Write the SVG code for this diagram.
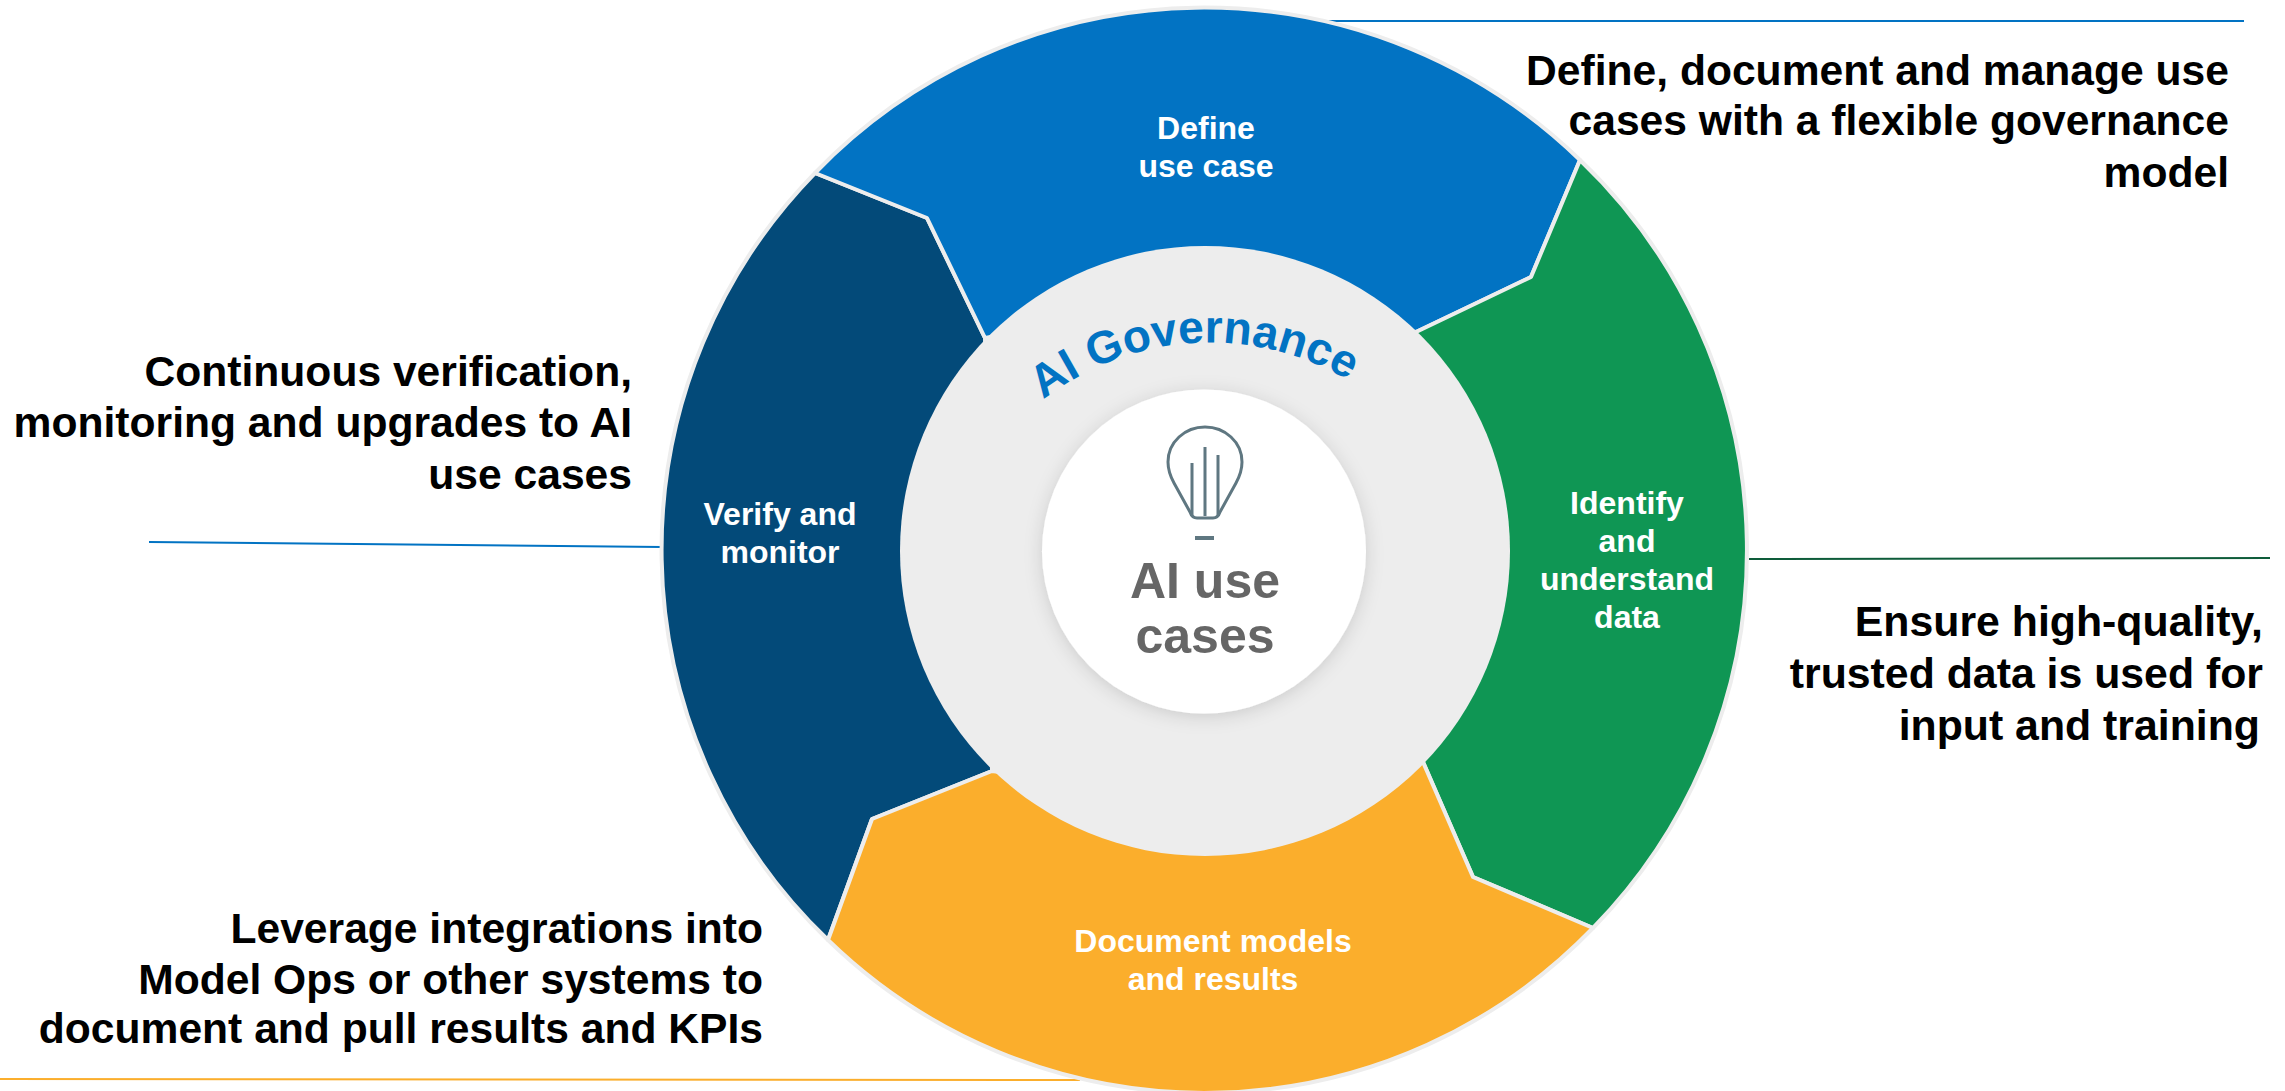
<svg xmlns="http://www.w3.org/2000/svg" width="2285" height="1091" viewBox="0 0 2285 1091">
<defs>
<filter id="sh" x="-20%" y="-20%" width="140%" height="140%"><feDropShadow dx="0" dy="3" stdDeviation="9" flood-color="#000" flood-opacity="0.14"/></filter>
<path id="arc" d="M1007 434 A271 271 0 0 1 1389 410"/>
</defs>
<style>
text{font-family:"Liberation Sans",Arial,sans-serif;font-weight:700}
.d{font-size:42.6px;fill:#000;text-anchor:end}
.e{font-size:42.8px}
.w{font-size:32px;fill:#fff;text-anchor:middle}
.seg{stroke:#ededed;stroke-width:4;stroke-linejoin:round}
.c{fill:none;stroke-width:2}
</style>
<rect width="2285" height="1091" fill="#fff"/>
<g id="connectors">
<path class="c" stroke="#0273c3" d="M1323 21H2244"/>
<path class="c" stroke="#0e5c3a" d="M1749 559L2270 558"/>
<path class="c" stroke="#fbae2c" d="M0 1079L1080 1080"/>
<path class="c" stroke="#0273c3" d="M149 542L662 547"/>
</g>
<circle cx="1204" cy="548" r="541.5" fill="#ededed"/>
<g id="node-verify"><path class="seg" fill="#034a79" d="M815 173 L927 218 L985 338 L992 771 L872 819 L828 940 A540 540 0 0 1 815 173Z"/><text class="w"><tspan x="780" y="525">Verify and</tspan><tspan x="780" y="563">monitor</tspan></text></g>
<g id="node-define"><path class="seg" fill="#0273c3" d="M815 173 A540 540 0 0 1 1580 160 L1531 277 L1416 332 L1204 300 L985 338 L927 218Z"/><text class="w"><tspan x="1206" y="139">Define</tspan><tspan x="1206" y="177">use case</tspan></text></g>
<g id="node-identify"><path class="seg" fill="#0f9654" d="M1580 160 A540 540 0 0 1 1593 928 L1473 877 L1423 762 L1416 332 L1531 277Z"/><text class="w"><tspan x="1627" y="514">Identify</tspan><tspan x="1627" y="552">and</tspan><tspan x="1627" y="590">understand</tspan><tspan x="1627" y="628">data</tspan></text></g>
<g id="node-document"><path class="seg" fill="#fbae2c" d="M1593 928 A540 540 0 0 1 828 940 L872 819 L992 771 L1204 800 L1423 762 L1473 877Z"/><text class="w"><tspan x="1213" y="952">Document models</tspan><tspan x="1213" y="990">and results</tspan></text></g>
<g id="node-governance"><circle cx="1205" cy="551" r="305" fill="#ededed"/><text font-size="46" fill="#0273c3"><textPath href="#arc" startOffset="50%" text-anchor="middle">AI Governance</textPath></text></g>
<g id="node-center"><circle cx="1204" cy="551.5" r="162" fill="#fff" filter="url(#sh)"/>
<g fill="none" stroke="#5f7781" stroke-width="3"><path d="M1190 512 L1174 483 Q1168 472 1168 462 C1168 442 1185 427 1205 427 C1225 427 1242 442 1242 462 Q1242 472 1236 483 L1220 512 Q1218 518 1213 518 H1197 Q1192 518 1190 512Z"/><path d="M1192 516V463M1205 516V447M1218 516V455"/><path stroke-width="4" d="M1195 538H1214"/></g>
<text font-size="50" fill="#666" text-anchor="middle"><tspan x="1205" y="598">AI use</tspan><tspan x="1205" y="653">cases</tspan></text></g>
<g id="note-define"><text class="d"><tspan x="2229" y="85">Define, document and manage use</tspan><tspan x="2229" y="135">cases with a flexible governance</tspan><tspan x="2229" y="187">model</tspan></text></g>
<g id="note-data"><text class="d e"><tspan x="2263" y="636">Ensure high-quality,</tspan><tspan x="2263" y="688">trusted data is used for</tspan><tspan x="2260" y="740">input and training</tspan></text></g>
<g id="note-verify"><text class="d"><tspan x="632" y="386">Continuous verification,</tspan><tspan x="632" y="437">monitoring and upgrades to AI</tspan><tspan x="632" y="489">use cases</tspan></text></g>
<g id="note-document"><text class="d"><tspan x="763" y="943">Leverage integrations into</tspan><tspan x="763" y="994">Model Ops or other systems to</tspan><tspan x="763" y="1043">document and pull results and KPIs</tspan></text></g>
</svg>
